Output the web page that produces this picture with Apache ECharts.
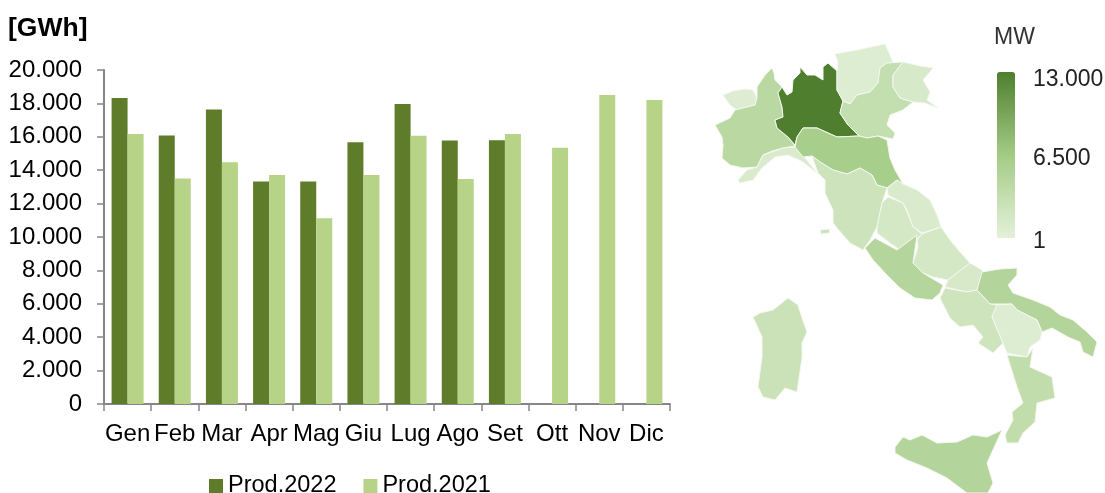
<!DOCTYPE html>
<html><head><meta charset="utf-8">
<style>html,body{margin:0;padding:0;background:#fff}#c{width:1105px;height:493px}</style>
<script src="https://cdn.jsdelivr.net/npm/echarts@6/dist/echarts.min.js"></script>
</head><body><div id="c"></div>
<script>
const months=['Gen','Feb','Mar','Apr','Mag','Giu','Lug','Ago','Set','Ott','Nov','Dic'];
const prod2022=[18320,16080,17640,13330,13330,15680,17960,15780,15800,null,null,null];
const prod2021=[16170,13510,14470,13710,11120,13720,16060,13480,16170,15350,18500,18200];
const regionNames=['Lombardia','Emilia-Romagna','Piemonte','Veneto','Puglia','Sicilia','Lazio','Calabria','Toscana','Sardegna','Campania','Abruzzo','Umbria','Friuli','Marche','Molise','Liguria','Basilicata','Trentino','Valle d\'Aosta'];
const regionMW=[13000,6000,4300,3300,4900,4900,4800,3500,2400,2500,2200,1600,1500,1400,1000,1300,1100,700,700,600];
const scaleLabels=['13.000','6.500','1'];

// Map outlines (region shapes for the map projection)
const shapes={
'Valle d\'Aosta':[[[723,95],[733,91],[745,89],[753,90],[757,98],[755,105],[737,110],[730,105]]],
'Piemonte':[[[772,68],[774,73],[775,80],[782,87],[778,93],[782,107],[783,117],[775,120],[777,128],[788,137],[795,146],[783,148],[772,151],[763,155],[757,167],[743,168],[730,165],[722,158],[723,145],[722,137],[715,125],[730,118],[735,110],[755,105],[757,98],[757,87],[765,75]]],
'Lombardia':[[[778,93],[782,87],[787,95],[792,92],[793,80],[800,73],[800,67],[807,75],[815,75],[823,80],[823,67],[828,63],[837,71],[837,90],[843,101],[840,113],[848,125],[859,136],[837,137],[817,128],[803,128],[797,137],[795,145],[788,137],[777,128],[775,120],[783,117],[782,107]]],
'Trentino':[[[835,54],[857,50],[885,44],[893,62],[880,68],[878,83],[870,92],[857,95],[850,104],[843,101],[837,90],[837,71],[838,62]]],
'Veneto':[[[880,68],[887,63],[903,62],[893,75],[893,87],[900,98],[913,102],[903,110],[890,115],[887,125],[895,133],[893,139],[878,136],[867,138],[859,136],[848,125],[840,113],[843,101],[850,104],[857,95],[870,92],[878,83]]],
'Friuli':[[[903,62],[920,66],[933,68],[923,80],[930,92],[927,100],[938,108],[925,103],[913,102],[900,98],[893,87],[893,75]]],
'Liguria':[[[757,167],[763,155],[783,148],[795,147],[805,158],[818,174],[803,162],[788,155],[775,157],[762,168],[753,180],[740,183],[738,180],[747,170]]],
'Emilia-Romagna':[[[797,137],[803,128],[817,128],[837,137],[859,136],[867,138],[878,136],[887,140],[890,158],[895,170],[903,184],[897,180],[887,188],[877,185],[872,175],[860,168],[847,174],[833,170],[820,162],[812,156],[803,157],[795,147]]],
'Toscana':[[[812,156],[820,162],[833,170],[847,174],[860,168],[872,175],[877,185],[887,188],[882,203],[877,227],[870,240],[863,250],[850,243],[843,235],[833,223],[833,210],[825,193],[825,180],[818,173]],[[820,230],[830,229],[829,233],[821,234]]],
'Marche':[[[897,180],[903,184],[917,190],[930,200],[938,217],[941,227],[922,233],[913,227],[907,210],[903,203],[888,195],[887,188]]],
'Umbria':[[[888,197],[903,203],[907,212],[913,227],[922,234],[918,238],[900,250],[890,243],[877,233],[877,227],[882,203]]],
'Lazio':[[[865,248],[875,238],[897,250],[917,235],[913,263],[923,273],[943,285],[940,293],[932,300],[915,298],[900,288],[887,275],[873,260]]],
'Abruzzo':[[[917,240],[922,234],[941,227],[950,240],[960,252],[970,263],[958,272],[948,280],[933,277],[923,273],[913,263],[918,247]]],
'Molise':[[[970,263],[982,270],[983,275],[977,290],[967,292],[945,287],[948,280],[958,272]]],
'Puglia':[[[982,272],[1000,269],[1017,268],[1017,275],[1008,285],[1013,293],[1033,300],[1050,307],[1060,315],[1073,320],[1087,332],[1097,342],[1093,357],[1083,352],[1080,342],[1068,337],[1052,328],[1042,332],[1037,320],[1017,310],[1012,304],[990,304],[977,290]]],
'Campania':[[[945,288],[967,292],[977,290],[990,304],[997,305],[992,317],[1003,343],[993,353],[978,343],[983,337],[973,325],[960,327],[950,318],[940,298]]],
'Basilicata':[[[997,305],[1012,304],[1017,310],[1037,320],[1042,332],[1040,340],[1030,347],[1027,357],[1007,353],[1003,343],[992,317]]],
'Calabria':[[[1007,355],[1027,357],[1033,348],[1030,367],[1052,377],[1055,398],[1037,403],[1035,422],[1023,433],[1018,443],[1007,443],[1005,435],[1013,420],[1012,412],[1023,403],[1017,387]]],
'Sicilia':[[[895,447],[903,437],[910,440],[922,435],[937,443],[957,442],[973,435],[987,437],[1002,430],[987,463],[993,483],[988,493],[967,493],[947,478],[927,468],[907,460],[895,453]]],
'Sardegna':[[[753,317],[760,313],[773,310],[788,298],[798,305],[802,318],[807,332],[802,343],[802,358],[797,392],[785,388],[775,400],[763,397],[758,387],[762,357],[762,337]]]
};
const geoJson={type:'FeatureCollection',features:Object.keys(shapes).map(n=>({type:'Feature',properties:{name:n},
  geometry:{type:'MultiPolygon',coordinates:shapes[n].map(r=>{const c=r.map(p=>[p[0],-p[1]]);c.push(c[0]);return [c];})}}))};
echarts.registerMap('italia',geoJson);

const FONT='"Liberation Sans",Arial,sans-serif';
const dots=v=>String(v).replace(/\B(?=(\d{3})+$)/g,'.');
const chart=echarts.init(document.getElementById('c'),null,{renderer:'canvas'});
const mkText=(t,x,y,size,weight,color)=>({text:t,left:x,top:y,padding:0,textStyle:{fontFamily:FONT,fontSize:size,fontWeight:weight,color:color}});
chart.setOption({
  animation:false,backgroundColor:'#fff',
  title:[
    mkText('[GWh]',8,15,26.5,'bold','#000'),
    mkText('MW',994,26,23,'normal','#333'),
    mkText(scaleLabels[0],1033,68,23,'normal','#222'),
    mkText(scaleLabels[1],1033,147,23,'normal','#222'),
    mkText(scaleLabels[2],1033,230,23,'normal','#222')
  ],
  grid:{left:104,top:70,width:566,height:334,containLabel:false},
  xAxis:{type:'category',data:months,
    axisLine:{lineStyle:{color:'#868686',width:2}},
    axisTick:{show:true,length:7,lineStyle:{color:'#868686',width:1.5}},
    axisLabel:{interval:0,margin:18,fontFamily:FONT,fontSize:24,color:'#000'}},
  yAxis:{type:'value',min:0,max:20000,interval:2000,
    axisLine:{show:true,lineStyle:{color:'#868686',width:2}},
    axisTick:{show:true,length:7,lineStyle:{color:'#868686',width:1.5}},
    splitLine:{show:false},
    axisLabel:{margin:22,fontFamily:FONT,fontSize:24,color:'#000',padding:[4,0,0,0],formatter:dots}},
  legend:{left:209,top:474,padding:0,itemWidth:14,itemHeight:14,itemGap:27,icon:'rect',
    textStyle:{fontFamily:FONT,fontSize:23.5,color:'#000'},data:['Prod.2022','Prod.2021']},
  visualMap:{type:'continuous',seriesIndex:2,min:1,max:13000,left:982,top:57,itemWidth:18,itemHeight:166,
    calculable:false,realtime:false,text:null,showLabel:false,hoverLink:false,
    inRange:{color:['#e4f1da','#a3cb85','#4f7f2e']},textStyle:{fontSize:0}},
  series:[
    {name:'Prod.2022',type:'bar',data:prod2022,barWidth:16,barGap:'0%',itemStyle:{color:'#5f7c2b'}},
    {name:'Prod.2021',type:'bar',data:prod2021,barWidth:16,barGap:'0%',itemStyle:{color:'#b6d388'}},
    {name:'MW',type:'map',map:'italia',aspectScale:1,left:715,top:44,width:382,height:449,roam:false,silent:true,
      showLegendSymbol:false,
      label:{show:false},emphasis:{disabled:true},select:{disabled:true},
      itemStyle:{borderColor:'#f4f8f0',borderWidth:1},
      data:regionNames.map((n,i)=>({name:n,value:regionMW[i]}))}
  ]
});
</script></body></html>
